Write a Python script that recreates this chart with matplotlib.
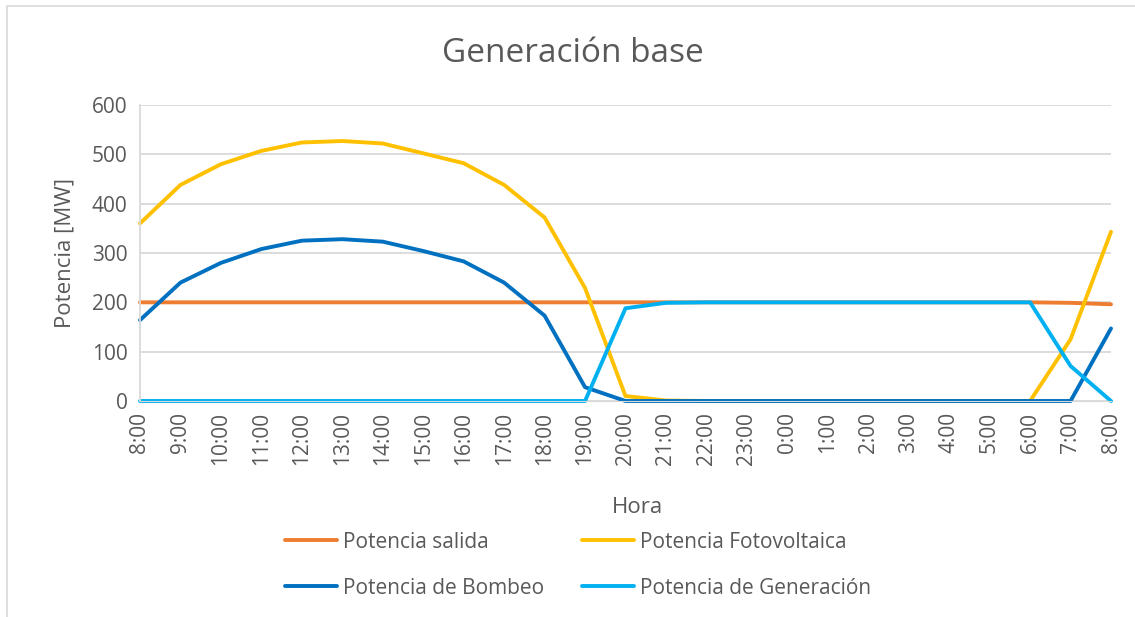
import matplotlib.pyplot as plt
from matplotlib.patches import Rectangle

# hours from 8:00 to 8:00 next day
horas = ['8:00', '9:00', '10:00', '11:00', '12:00', '13:00', '14:00', '15:00',
         '16:00', '17:00', '18:00', '19:00', '20:00', '21:00', '22:00', '23:00',
         '0:00', '1:00', '2:00', '3:00', '4:00', '5:00', '6:00', '7:00', '8:00']

salida = [200, 200, 200, 200, 200, 200, 200, 200, 200, 200, 200, 200, 200,
          200, 200, 200, 200, 200, 200, 200, 200, 200, 200, 199, 196]
fotovoltaica = [360, 438, 480, 507, 524, 527, 522, 502, 482, 438, 372, 229, 10,
                1, 0, 0, 0, 0, 0, 0, 0, 0, 0, 125, 343]
bombeo = [164, 240, 280, 308, 325, 328, 323, 304, 283, 240, 173, 28, 0,
          0, 0, 0, 0, 0, 0, 0, 0, 0, 0, 0, 147]
generacion = [0, 0, 0, 0, 0, 0, 0, 0, 0, 0, 0, 0, 188,
              199, 200, 200, 200, 200, 200, 200, 200, 200, 200, 71, 0]

plt.rcParams['font.family'] = ['Open Sans', 'DejaVu Sans']
txt = '#595959'

fig = plt.figure(figsize=(11.35, 6.17), dpi=100)
W, H = 1135, 617
ax = fig.add_axes([140 / W, 1 - 401 / H, (1111 - 140) / W, (401 - 105) / H])

x = list(range(len(horas)))
kw = dict(lw=2.8, solid_capstyle='round', clip_on=False)
l1, = ax.plot(x, salida, color='#ED7D31', label='Potencia salida', **kw)
l2, = ax.plot(x, fotovoltaica, color='#FFC000', label='Potencia Fotovoltaica', **kw)
l3, = ax.plot(x, bombeo, color='#0070C0', label='Potencia de Bombeo', **kw)
l4, = ax.plot(x, generacion, color='#00B0F0', label='Potencia de Generación', **kw)

ax.set_xlim(0, len(horas) - 1)
ax.set_ylim(0, 600)
ax.set_yticks(range(0, 601, 100))
ax.set_xticks(x)
ax.set_xticklabels(horas, rotation=90)
ax.tick_params(length=0, labelsize=15, colors=txt, pad=8)
ax.tick_params(axis='y', pad=9)
ax.yaxis.grid(True, color='#D9D9D9', lw=1.3)
ax.set_axisbelow(True)
for s in ['top', 'right']:
    ax.spines[s].set_visible(False)
ax.spines['left'].set_color('#D9D9D9')
ax.spines['bottom'].set_color('#D9D9D9')
ax.spines['left'].set_linewidth(1.3)

fig.text(573 / W, 1 - 62 / H, 'Generación base', ha='center', va='baseline', fontsize=24, color=txt)
fig.text(70 / W, 1 - 253 / H, 'Potencia [MW]', ha='center', va='baseline', rotation=90,
         rotation_mode='anchor', fontsize=16, color=txt)
fig.text(637 / W, 1 - 513 / H, 'Hora', ha='center', va='baseline', fontsize=16, color=txt)

leg = fig.legend([l1, l3, l2, l4], [l1.get_label(), l3.get_label(), l2.get_label(), l4.get_label()],
                 loc='center', bbox_to_anchor=(578 / W, 1 - 565 / H), ncol=2, frameon=False,
                 fontsize=15, handlelength=2.5, handletextpad=0.3, columnspacing=1.8,
                 labelspacing=1.2, labelcolor=txt)

# light chart border like the excel chart area
fig.patches.append(Rectangle((7 / W, -0.1), 1.2, 1 - 6 / H + 0.1, transform=fig.transFigure,
                             fill=False, edgecolor='#D9D9D9', lw=1.2))

fig.savefig('out.png', dpi=100)
